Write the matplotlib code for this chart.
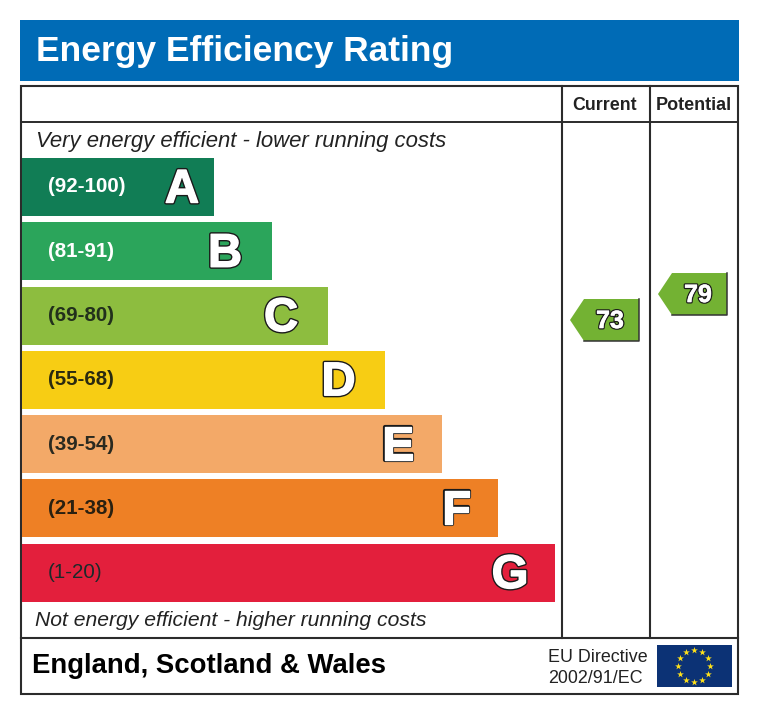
import numpy as np
import matplotlib
matplotlib.use('Agg')
import matplotlib.pyplot as plt
import matplotlib.patheffects as pe
from matplotlib.patches import Polygon, Rectangle

plt.rcParams['font.family'] = ['Liberation Sans', 'DejaVu Sans']

# band data, lengths
letters = ['A', 'B', 'C', 'D', 'E', 'F', 'G']
ranges = ['(92-100)', '(81-91)', '(69-80)', '(55-68)', '(39-54)', '(21-38)', '(1-20)']
bar_len = [192, 250, 306, 363, 420, 476, 533]
bar_col = ['#117d55', '#2ba55b', '#8dbd3f', '#f7cd14', '#f3a968', '#ee8025', '#e31f3c']
range_col = ['white', 'white', '#22301c', '#2a2a10', '#2a2a20', '#2a2010', '#1c2a2a']

current = 73
potential = 79

# how far each letter sits back from the end of its bar
letter_back = [32, 47, 47, 46.5, 44, 42, 45]

line_col = '#2b2b2b'


def outlined(outer, inner):
    # fat white glyph with a thin dark rim
    return [pe.Stroke(linewidth=outer, foreground='#1a1a1a'),
            pe.Stroke(linewidth=inner, foreground='white'),
            pe.Normal()]


fig = plt.figure(figsize=(7.6, 7.15), dpi=100)
ax = fig.add_axes([0, 0, 1, 1])
ax.set_xlim(0, 760)
ax.set_ylim(715, 0)
ax.axis('off')

# title banner
ax.add_patch(Rectangle((20, 20), 719, 61, color='#006bb6', lw=0))
ax.text(36, 61, 'Energy Efficiency Rating', color='white', fontsize=25.5,
        fontweight='bold', va='baseline', ha='left')

# frame
ax.add_patch(Rectangle((21, 86), 717, 608, fill=False, ec=line_col, lw=1.5))
ax.plot([21, 738], [122, 122], color=line_col, lw=1.4)
ax.plot([21, 738], [638, 638], color=line_col, lw=1.5)
ax.plot([562, 562], [86, 638], color=line_col, lw=1.5)
ax.plot([650, 650], [86, 638], color=line_col, lw=1.5)

ax.text(604.5, 110, 'Current', fontsize=12.8, fontweight='bold', color='#222222',
        ha='center', va='baseline')
ax.text(693.5, 110, 'Potential', fontsize=13, fontweight='bold', color='#222222',
        ha='center', va='baseline')

ax.text(36, 147, 'Very energy efficient - lower running costs', fontsize=15.9,
        style='italic', color='#222222', va='baseline')
ax.text(35, 626, 'Not energy efficient - higher running costs', fontsize=15.2,
        style='italic', color='#222222', va='baseline')

# bands
y_pos = 187 + 64.25 * np.arange(len(letters))
ax.barh(y_pos, bar_len, height=58, left=22, color=bar_col, lw=0)
for i in range(len(letters)):
    weight = 'normal' if letters[i] == 'G' else 'bold'
    ax.text(48, y_pos[i] + 5.5, ranges[i], color=range_col[i], fontsize=14.8,
            fontweight=weight, va='baseline')
    ax.text(22 + bar_len[i] - letter_back[i], y_pos[i] + 15.5, letters[i], color='white',
            fontsize=34, fontweight='bold', ha='center', va='baseline',
            path_effects=outlined(3, 1))


def pointer(x_tip, score):
    y = 320 - (score - 73) * 4.33
    pts = [(x_tip, y), (x_tip + 14, y - 21), (x_tip + 69, y - 21),
           (x_tip + 69, y + 21), (x_tip + 14, y + 21)]
    ax.add_patch(Polygon(pts, closed=True, fc='#73b233', lw=0))
    # only the right and bottom edges carry a dark line
    ax.plot([x_tip + 69, x_tip + 69, x_tip + 14], [y - 21, y + 21, y + 21],
            color='#333333', lw=1.1)
    ax.text(x_tip + 40, y + 8, str(score), color='white', fontsize=18, fontweight='bold',
            ha='center', va='baseline', path_effects=outlined(2.2, 0.4))


pointer(570, current)
pointer(658, potential)

# footer
ax.text(32, 673, 'England, Scotland & Wales', fontsize=19.8, fontweight='bold',
        color='black', va='baseline')
ax.text(548, 662, 'EU Directive', fontsize=12.9, color='#222222', va='baseline')
ax.text(548, 683, '2002/91/EC', fontsize=12.9, color='#222222', va='baseline')

# EU flag
ax.add_patch(Rectangle((657, 645), 75, 42, color='#0c3275', lw=0))
ang = np.deg2rad(np.arange(0, 360, 30))
ax.scatter(694 + 16 * np.cos(ang), 666 + 16 * np.sin(ang), marker='*', s=26,
           color='#ffe11a', lw=0)

fig.savefig('out.png', dpi=100)
